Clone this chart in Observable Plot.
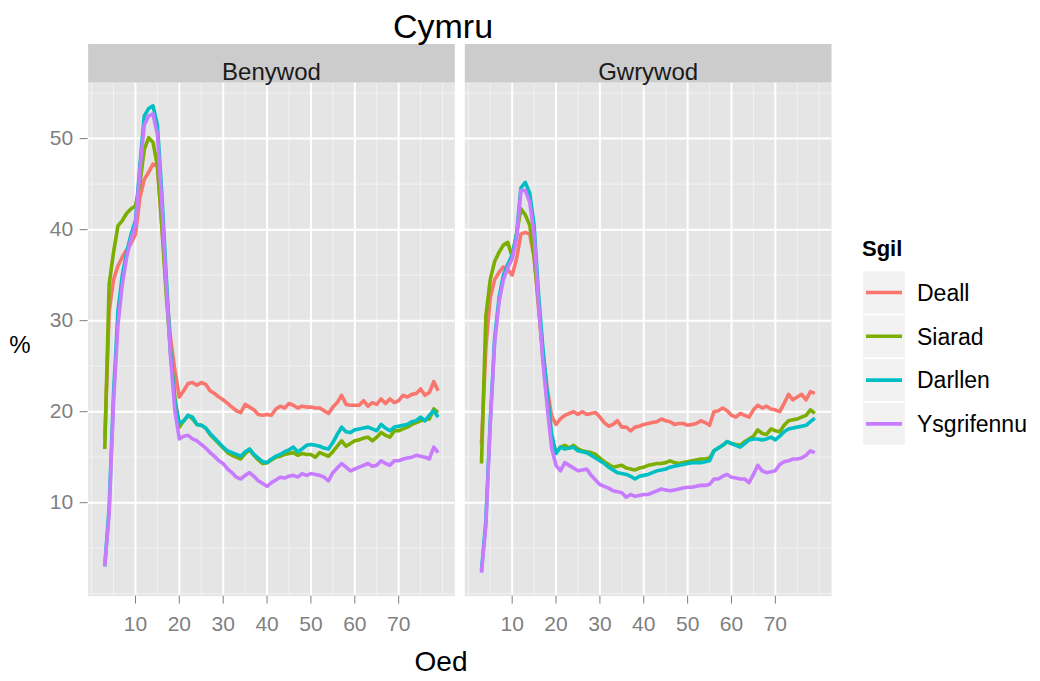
<!DOCTYPE html>
<html>
<head>
<meta charset="utf-8">
<script src="https://cdn.jsdelivr.net/npm/d3@7"></script>
<script src="https://cdn.jsdelivr.net/npm/@observablehq/plot@0.6"></script>
<style>
  html, body { margin: 0; padding: 0; background: #fff; }
  #chart { width: 1040px; height: 681px; }
</style>
</head>
<body>
<div id="chart"></div>
<script>
// ---------- data ----------
const facets = ["Benywod", "Gwrywod"];
const skills = ["Deall", "Siarad", "Darllen", "Ysgrifennu"];
const skillColors = ["#F8766D", "#7CAE00", "#00BFC4", "#C77CFF"];

const ages = [3,4,5,6,7,8,9,10,11,12,13,14,15,16,17,18,19,20,21,22,23,24,25,26,27,28,29,30,
  31,32,33,34,35,36,37,38,39,40,41,42,43,44,45,46,47,48,49,50,51,52,53,54,55,56,57,58,59,60,
  61,62,63,64,65,66,67,68,69,70,71,72,73,74,75,76,77,78,79];

// Benywod (female)
const benywodDeall = [17, 31, 34.5, 36, 37, 37.8, 38.5, 39.5, 43.5, 45.5,
  46.3, 47.2, 47, 40.5, 33.5, 28, 24.5, 21.6, 22.3, 23.1,
  23.2, 22.9, 23.2, 23.0, 22.3, 22.0, 21.6, 21.3, 20.9, 20.5,
  20.1, 19.9, 20.8, 20.5, 20.2, 19.7, 19.6, 19.7, 19.6, 20.3,
  20.6, 20.4, 20.9, 20.7, 20.4, 20.6, 20.5, 20.5, 20.4, 20.4,
  20.1, 19.8, 20.5, 21.0, 21.8, 20.8, 20.7, 20.7, 20.7, 21.2,
  20.6, 21.0, 20.8, 21.4, 20.9, 21.4, 21.0, 21.2, 21.8, 21.6,
  21.9, 22.0, 22.5, 21.8, 22.1, 23.3, 22.3];
const benywodSiarad = [15.9, 34, 37.5, 40.4, 41, 41.8, 42.3, 42.6, 45, 48.8,
  50.1, 49.6, 47, 40.5, 33, 26.5, 21.5, 18.3, 19.0, 19.6,
  19.2, 18.6, 18.5, 18.2, 17.5, 17.0, 16.5, 16.0, 15.5, 15.2,
  15.0, 14.8, 15.4, 15.8, 15.2, 14.7, 14.3, 14.4, 14.7, 15.0,
  15.1, 15.3, 15.4, 15.5, 15.2, 15.4, 15.3, 15.3, 15.0, 15.5,
  15.3, 15.1, 15.6, 16.2, 16.8, 16.2, 16.5, 16.8, 16.9, 17.1,
  17.2, 16.8, 17.2, 17.7, 17.4, 17.2, 17.9, 17.9, 18.1, 18.3,
  18.6, 18.8, 19.0, 19.1, 19.2, 20.3, 19.9];
const benywodDarllen = [3.0, 9.5, 22, 31, 35, 37.5, 39.5, 41, 47, 52.5,
  53.3, 53.6, 51.5, 44, 35, 26.5, 21, 18.7, 19.0, 19.6,
  19.4, 18.6, 18.5, 18.2, 17.6, 17.1, 16.6, 16.1, 15.7, 15.5,
  15.3, 15.1, 15.6, 15.9, 15.3, 14.9, 14.5, 14.4, 14.8, 15.1,
  15.3, 15.6, 15.8, 16.1, 15.6, 15.9, 16.3, 16.4, 16.3, 16.2,
  16.0, 15.9, 16.6, 17.5, 18.3, 17.8, 17.7, 18.0, 18.1, 18.2,
  18.3, 18.1, 17.9, 18.6, 18.2, 17.9, 18.3, 18.4, 18.5, 18.6,
  18.9, 19.0, 19.4, 19.0, 19.6, 20.1, 19.4];
const benywodYsgrifennu = [3.0, 8.8, 21, 29.5, 34, 37, 39, 40.5, 46.5, 51.5,
  52.5, 52.7, 50.5, 43, 34, 26, 20, 17.0, 17.3, 17.4,
  17.0, 16.8, 16.4, 16.0, 15.5, 15.1, 14.6, 14.3, 13.7, 13.3,
  12.8, 12.6, 13.0, 13.3, 12.9, 12.4, 12.1, 11.8, 12.2, 12.5,
  12.8, 12.7, 12.9, 13.0, 12.8, 13.2, 13.0, 13.2, 13.1, 13.0,
  12.8, 12.4, 13.3, 13.8, 14.3, 13.9, 13.5, 13.7, 13.9, 14.1,
  14.3, 14.0, 14.1, 14.6, 14.3, 14.1, 14.6, 14.6, 14.8, 14.9,
  15.0, 15.2, 15.1, 15.0, 14.8, 16.1, 15.5];

// Gwrywod (male)
const gwrywodDeall = [16.4, 27, 32.5, 34.5, 35.3, 35.9, 35.6, 35.0, 36.8, 39.5,
  39.7, 39.5, 37, 31.5, 26.5, 22.5, 19.5, 18.6, 19.2, 19.6,
  19.8, 20.0, 19.7, 20.0, 19.7, 19.8, 19.9, 19.4, 18.8, 18.4,
  18.6, 19.0, 18.3, 18.3, 17.9, 18.3, 18.4, 18.6, 18.7, 18.8,
  18.9, 19.2, 19.0, 18.9, 18.6, 18.7, 18.7, 18.5, 18.6, 18.7,
  19.0, 18.8, 18.5, 20.0, 20.1, 20.4, 20.1, 19.6, 19.4, 19.8,
  19.6, 19.4, 20.2, 20.7, 20.4, 20.6, 20.3, 20.2, 20.0, 20.9,
  21.9, 21.3, 21.6, 21.9, 21.3, 22.2, 22.0];
const gwrywodSiarad = [14.3, 30.5, 34.5, 36.5, 37.5, 38.3, 38.6, 37.0, 39.5, 42.3,
  41.6, 40.5, 37, 32, 26, 21, 17, 15.5, 16.1, 16.3,
  16.0, 16.3, 15.9, 15.7, 15.6, 15.5, 15.3, 14.9, 14.5, 14.2,
  13.9, 14.0, 14.1, 13.8, 13.7, 13.6, 13.8, 13.9, 14.1, 14.2,
  14.3, 14.3, 14.4, 14.6, 14.4, 14.3, 14.4, 14.5, 14.6, 14.7,
  14.8, 14.8, 14.9, 15.7, 16.0, 16.3, 16.7, 16.5, 16.4, 16.3,
  16.7, 17.0, 17.3, 18.0, 17.6, 17.5, 18.1, 17.9, 17.8, 18.5,
  19.0, 19.1, 19.2, 19.4, 19.6, 20.2, 19.8];
const gwrywodDarllen = [2.5, 8, 19, 28, 32.5, 35, 36.2, 37.2, 39.5, 44.6,
  45.2, 44, 40.5, 33, 27, 22, 17.5, 15.4, 16.1, 15.9,
  16.0, 16.1, 15.7, 15.6, 15.5, 15.2, 14.9, 14.6, 14.3, 13.9,
  13.6, 13.3, 13.2, 13.1, 12.9, 12.6, 12.9, 13.0, 13.1, 13.3,
  13.5, 13.6, 13.7, 13.9, 14.0, 14.1, 14.2, 14.3, 14.4, 14.4,
  14.4, 14.5, 14.6, 15.7, 16.0, 16.3, 16.7, 16.5, 16.3, 16.1,
  16.5, 16.9, 17.0, 17.0, 16.9, 17.0, 17.2, 16.9, 17.3, 17.8,
  18.1, 18.2, 18.3, 18.4, 18.5, 18.9, 19.3];
const gwrywodYsgrifennu = [2.3, 7.5, 18.5, 27.5, 32, 34.5, 35.8, 36.8, 39, 44.3,
  44.3, 43, 39.5, 32, 25.5, 20.5, 16, 14.1, 13.5, 14.4,
  14.1, 13.8, 13.5, 13.6, 13.7, 13.0, 12.5, 12.0, 11.8, 11.6,
  11.3, 11.2, 11.1, 10.6, 10.9, 10.7, 10.8, 10.9, 10.9, 11.1,
  11.3, 11.5, 11.4, 11.3, 11.4, 11.5, 11.6, 11.7, 11.7, 11.8,
  11.9, 11.9, 12.0, 12.6, 12.6, 12.9, 13.1, 12.8, 12.7, 12.6,
  12.6, 12.2, 13.1, 14.1, 13.5, 13.3, 13.4, 13.5, 14.2, 14.5,
  14.6, 14.8, 14.8, 14.9, 15.2, 15.7, 15.5];

const xTicks = [10, 20, 30, 40, 50, 60, 70];
const xMinor = [0, 5, 15, 25, 35, 45, 55, 65, 75, 80];
const yTicks = [10, 20, 30, 40, 50];
const yMinor = [0, 5, 15, 25, 35, 45, 55];

const titleText = "Cymru";
const xTitle = "Oed";
const yTitle = "%";
const legendTitle = "Sgil";

// ---------- table ----------
const seriesByFacet = {
  Benywod: [benywodDeall, benywodSiarad, benywodDarllen, benywodYsgrifennu],
  Gwrywod: [gwrywodDeall, gwrywodSiarad, gwrywodDarllen, gwrywodYsgrifennu]
};
const rows = [];
facets.forEach(f => skills.forEach((s, i) => seriesByFacet[f][i].forEach((v, j) =>
  rows.push({rhyw: f, sgil: s, oed: ages[j], pc: v}))));

// ggplot-style 5% expansion
const [xmin, xmax] = d3.extent(rows, d => d.oed);
const [ymin, ymax] = d3.extent(rows, d => d.pc);
const xe = (xmax - xmin) * 0.05, ye = (ymax - ymin) * 0.05;

// ---------- layout ----------
const W = 1040, H = 681;
const mTop = 82, mBottom = 85.4, mLeft = 87.6, mRight = 209;
const panelH = H - mTop - mBottom;
const stripH = 38.5;
const font = "Liberation Sans, Arial, Helvetica, sans-serif";

const chart = Plot.plot({
  width: W, height: H,
  marginTop: mTop, marginBottom: mBottom, marginLeft: mLeft, marginRight: mRight,
  style: {fontFamily: font, background: "#fff", overflow: "visible"},
  fx: {domain: facets, paddingInner: 0.0265, paddingOuter: 0, round: false, axis: null, label: null},
  x: {domain: [xmin - xe, xmax + xe], label: null},
  y: {domain: [ymin - ye, ymax + ye], label: null},
  color: {domain: skills, range: skillColors},
  marks: [
    Plot.frame({fill: "#E5E5E5"}),
    Plot.ruleX(xMinor, {stroke: "#F2F2F2", strokeWidth: 1}),
    Plot.ruleY(yMinor, {stroke: "#F2F2F2", strokeWidth: 1}),
    Plot.ruleX(xTicks, {stroke: "#FFFFFF", strokeWidth: 2}),
    Plot.ruleY(yTicks, {stroke: "#FFFFFF", strokeWidth: 2}),
    Plot.frame({fill: "#CCCCCC", insetTop: -stripH, insetBottom: panelH}),
    Plot.text(facets, {fx: d => d, text: d => d, frameAnchor: "top", dy: -stripH / 2,
      fontSize: 24, fill: "#1A1A1A"}),
    Plot.line(rows, {fx: "rhyw", x: "oed", y: "pc", stroke: "sgil", strokeWidth: 3.6,
      strokeLinejoin: "round", strokeLinecap: "butt"}),
    Plot.axisX({ticks: xTicks, anchor: "bottom", tickSize: 8, tickPadding: 12, fontSize: 21,
      color: "#7F7F7F", label: null}),
    Plot.axisY({ticks: yTicks, anchor: "left", tickSize: 8, tickPadding: 7, fontSize: 21,
      color: "#7F7F7F", label: null})
  ]
});

document.getElementById("chart").appendChild(chart);

// ---------- titles & legend (as SVG text) ----------
const svg = d3.select(chart);

svg.append("text").attr("x", 443).attr("y", 38).attr("text-anchor", "middle")
  .attr("font-family", font).attr("font-size", 34).attr("fill", "#000").text(titleText);
svg.append("text").attr("x", 441).attr("y", 671).attr("text-anchor", "middle")
  .attr("font-family", font).attr("font-size", 28).attr("fill", "#000").text(xTitle);
svg.append("text").attr("x", 20).attr("y", 353).attr("text-anchor", "middle")
  .attr("font-family", font).attr("font-size", 24).attr("fill", "#000").text(yTitle);

const lg = svg.append("g").attr("transform", "translate(862,0)").attr("text-anchor", "start");
lg.append("text").attr("x", 0).attr("y", 256).attr("text-anchor", "start").attr("font-family", font)
  .attr("font-size", 22).attr("font-weight", "bold").attr("fill", "#000").text(legendTitle);
const keySize = 42, keyStep = 43.8, keyTop = 271.5;
skills.forEach((s, i) => {
  const y0 = keyTop + i * keyStep;
  lg.append("rect").attr("x", 1).attr("y", y0).attr("width", keySize).attr("height", keySize)
    .attr("fill", "#F2F2F2");
  lg.append("line").attr("x1", 4).attr("x2", 40).attr("y1", y0 + keySize / 2).attr("y2", y0 + keySize / 2)
    .attr("stroke", skillColors[i]).attr("stroke-width", 3.6);
  lg.append("text").attr("x", 55).attr("y", y0 + keySize / 2).attr("dy", "0.36em")
    .attr("text-anchor", "start").attr("font-family", font).attr("font-size", 23)
    .attr("fill", "#000").text(s);
});
</script>
</body>
</html>
